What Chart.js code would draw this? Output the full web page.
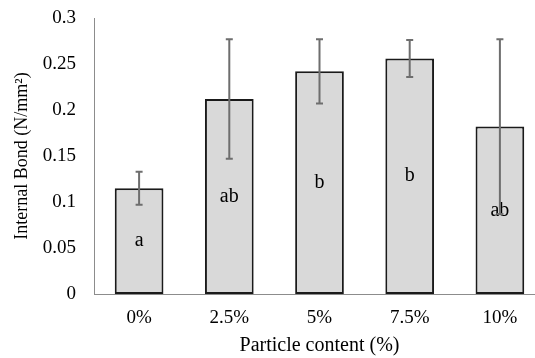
<!DOCTYPE html>
<html>
<head>
<meta charset="utf-8">
<script src="https://cdn.jsdelivr.net/npm/chart.js@4"></script>
<style>
  html, body { margin: 0; padding: 0; background: #fff; overflow: hidden; }
  #wrap { width: 545px; height: 358px; }
</style>
</head>
<body>
<div id="wrap"><canvas id="ibChart" width="545" height="358"></canvas></div>
<script>
// Internal bond vs particle content

const categories = ['0%', '2.5%', '5%', '7.5%', '10%'];
const meanIB = [0.115, 0.212, 0.242, 0.256, 0.182];
const errIB = [0.018, 0.065, 0.035, 0.020, 0.095];
const groupLetters = ['a', 'ab', 'b', 'b', 'ab'];
const yTicks = [0, 0.05, 0.1, 0.15, 0.2, 0.25, 0.3];

const serif = "'Liberation Serif', 'Times New Roman', serif";

// draws error bars and the significance letters on top of the bars
const extrasPlugin = {
    id: 'extras',
    afterDatasetsDraw(chart) {
        const ctx = chart.ctx;
        const meta = chart.getDatasetMeta(0);
        const y = chart.scales.y;
        ctx.save();
        // letters first, error lines drawn over them like the original
        ctx.fillStyle = '#000';
        ctx.font = '20px ' + serif;
        ctx.textAlign = 'center';
        ctx.textBaseline = 'middle';
        meta.data.forEach((bar, i) => {
            ctx.fillText(groupLetters[i], bar.x, y.getPixelForValue(meanIB[i] / 2));
        });
        ctx.strokeStyle = '#6e6e6e';
        ctx.lineWidth = 2;
        meta.data.forEach((bar, i) => {
            const top = y.getPixelForValue(meanIB[i] + errIB[i]);
            const bot = y.getPixelForValue(meanIB[i] - errIB[i]);
            ctx.beginPath();
            ctx.moveTo(bar.x, top);
            ctx.lineTo(bar.x, bot);
            ctx.moveTo(bar.x - 3.5, top);
            ctx.lineTo(bar.x + 3.5, top);
            ctx.moveTo(bar.x - 3.5, bot);
            ctx.lineTo(bar.x + 3.5, bot);
            ctx.stroke();
        });
        ctx.restore();
    }
};

function renderChart() {
    const ctx = document.getElementById('ibChart').getContext('2d');
    new Chart(ctx, {
        type: 'bar',
        data: {
            labels: categories,
            datasets: [{
                label: 'Internal Bond',
                data: meanIB,
                backgroundColor: '#d9d9d9',
                borderColor: '#1a1a1a',
                borderWidth: 2,
                borderSkipped: false,
                barPercentage: 0.54,
                categoryPercentage: 1
            }]
        },
        options: {
            responsive: false,
            animation: false,
            layout: { padding: { top: 18, right: 0, bottom: 0, left: 0 } },
            plugins: {
                legend: { display: false },
                tooltip: { enabled: false }
            },
            scales: {
                x: {
                    grid: { display: false, drawTicks: false },
                    border: { color: '#8c8c8c', width: 1 },
                    ticks: {
                        color: '#000',
                        font: { family: serif, size: 19 },
                        padding: 13
                    },
                    title: {
                        display: true,
                        text: 'Particle content (%)',
                        color: '#000',
                        font: { family: serif, size: 20 },
                        padding: 0
                    },
                    afterFit: s => { s.height = 64; s.paddingLeft = 0; s.paddingRight = 0; }
                },
                y: {
                    min: 0,
                    max: 0.3,
                    afterBuildTicks: s => { s.ticks = yTicks.map(v => ({ value: v })); },
                    grid: { display: false, drawTicks: false },
                    border: { color: '#8c8c8c', width: 1 },
                    ticks: {
                        color: '#000',
                        font: { family: serif, size: 19 },
                        padding: 18,
                        callback: v => String(+v.toFixed(2))
                    },
                    title: {
                        display: true,
                        text: 'Internal Bond (N/mm²)',
                        color: '#000',
                        font: { family: serif, size: 18 },
                        padding: { top: 11, bottom: 0 }
                    },
                    afterFit: s => { s.width = 94; s.paddingTop = 0; s.paddingBottom = 0; }
                }
            }
        },
        plugins: [extrasPlugin]
    });
}

document.addEventListener('DOMContentLoaded', () => {
    renderChart();
});
</script>
</body>
</html>
